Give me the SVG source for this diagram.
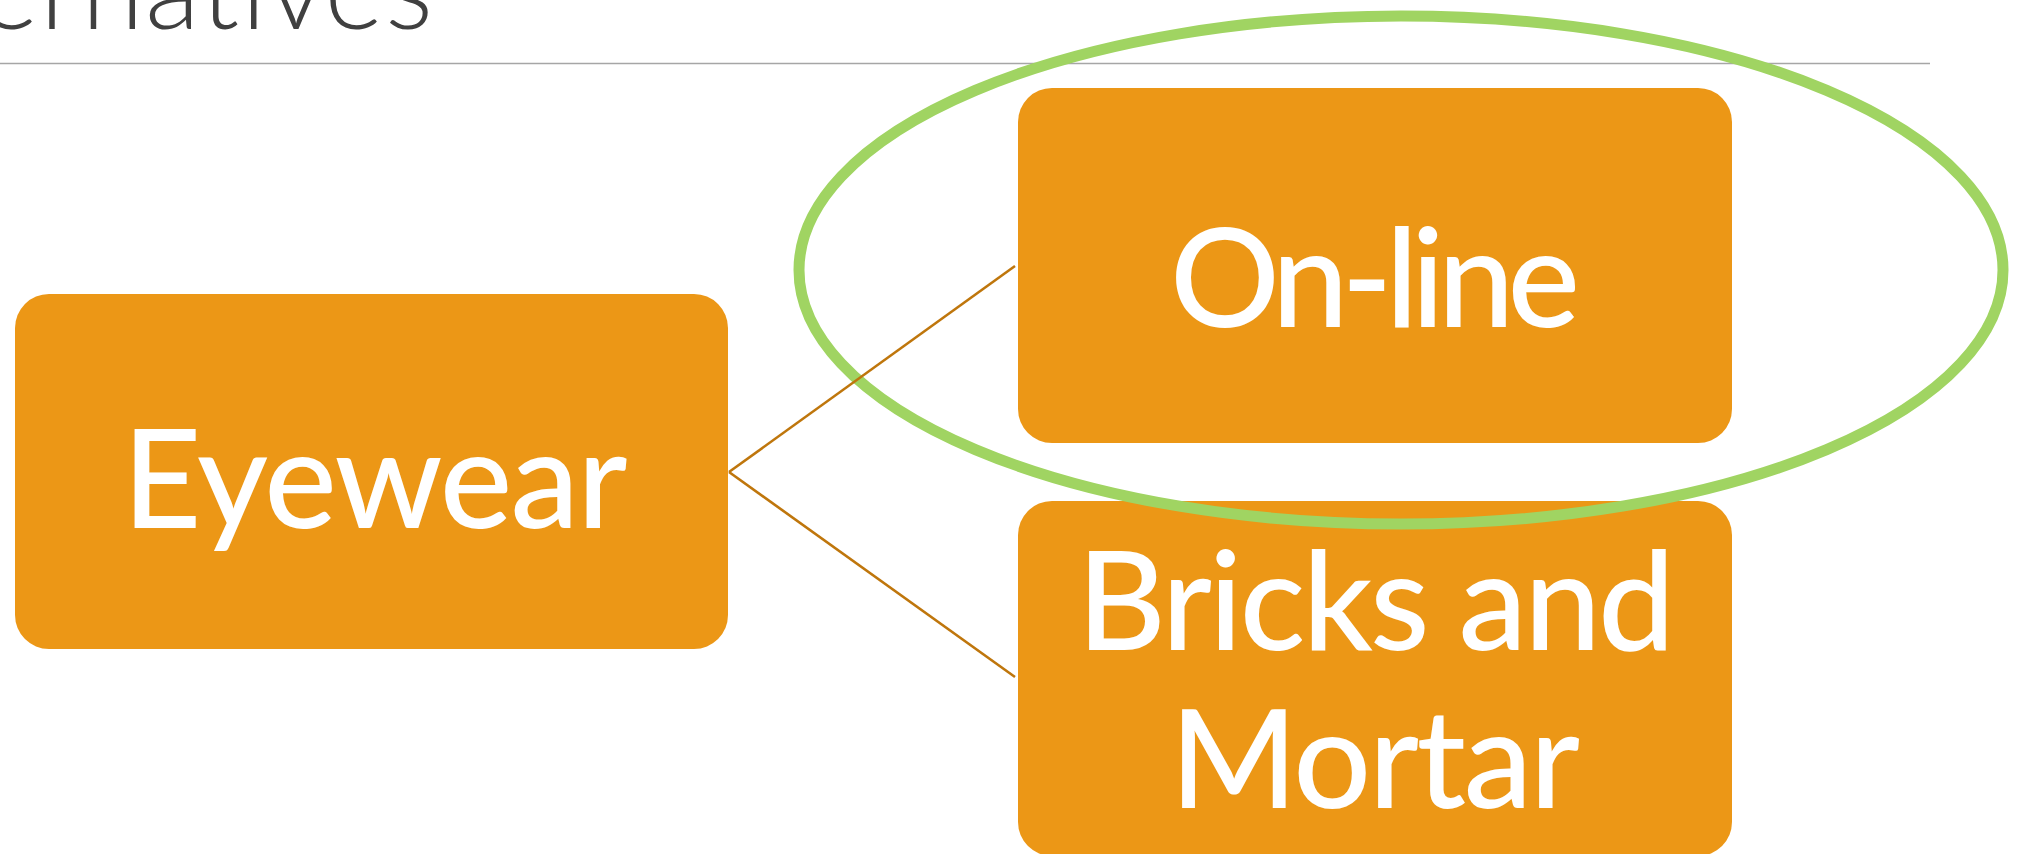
<svg xmlns="http://www.w3.org/2000/svg" width="2019" height="854" viewBox="0 0 2019 854">
  <style>
    .title { font-family: Lato, "Liberation Sans", sans-serif; font-weight: 300; font-size: 113px; fill: #404040; }
    .box { fill: #EC9716; }
    .label { font-family: Lato, "Liberation Sans", sans-serif; font-weight: 500; font-size: 137px; fill: #FFFFFF; text-anchor: middle; }
    .conn { stroke: #BF760C; stroke-width: 2.6; fill: none; }
    .rule { stroke: #A6A6A6; stroke-width: 1.6; }
    .mark { fill: none; stroke: #A0D462; stroke-width: 11; }
  </style>

  <!-- slide title, partly above the top edge, and its rule -->
  <g id="title">
    <text class="title" x="-162" y="29" textLength="595">Alternatives</text>
    <line class="rule" x1="0" y1="63.5" x2="1930" y2="63.5"/>
  </g>

  <!-- nodes -->
  <g id="node-eyewear">
    <rect class="box" x="15" y="294" width="713" height="355" rx="34"/>
    <text class="label" x="375" y="528" textLength="505">Eyewear</text>
  </g>
  <g id="node-online">
    <rect class="box" x="1018" y="88" width="714" height="355" rx="34"/>
    <text class="label" x="1375" y="327" textLength="410">On-line</text>
  </g>
  <g id="node-bricks">
    <rect class="box" x="1018" y="501" width="714" height="355" rx="34"/>
    <text class="label" x="1376" y="650" textLength="598">Bricks and</text>
    <text class="label" x="1375" y="808" textLength="410">Mortar</text>
  </g>

  <!-- highlight ring around the on-line branch -->
  <g id="highlight">
    <ellipse class="mark" cx="1401" cy="270" rx="602" ry="254"/>
  </g>

  <!-- connectors from the root to each branch -->
  <g id="connectors">
    <line class="conn" x1="729" y1="472" x2="1015" y2="266"/>
    <line class="conn" x1="729" y1="472" x2="1015" y2="677"/>
  </g>
</svg>
